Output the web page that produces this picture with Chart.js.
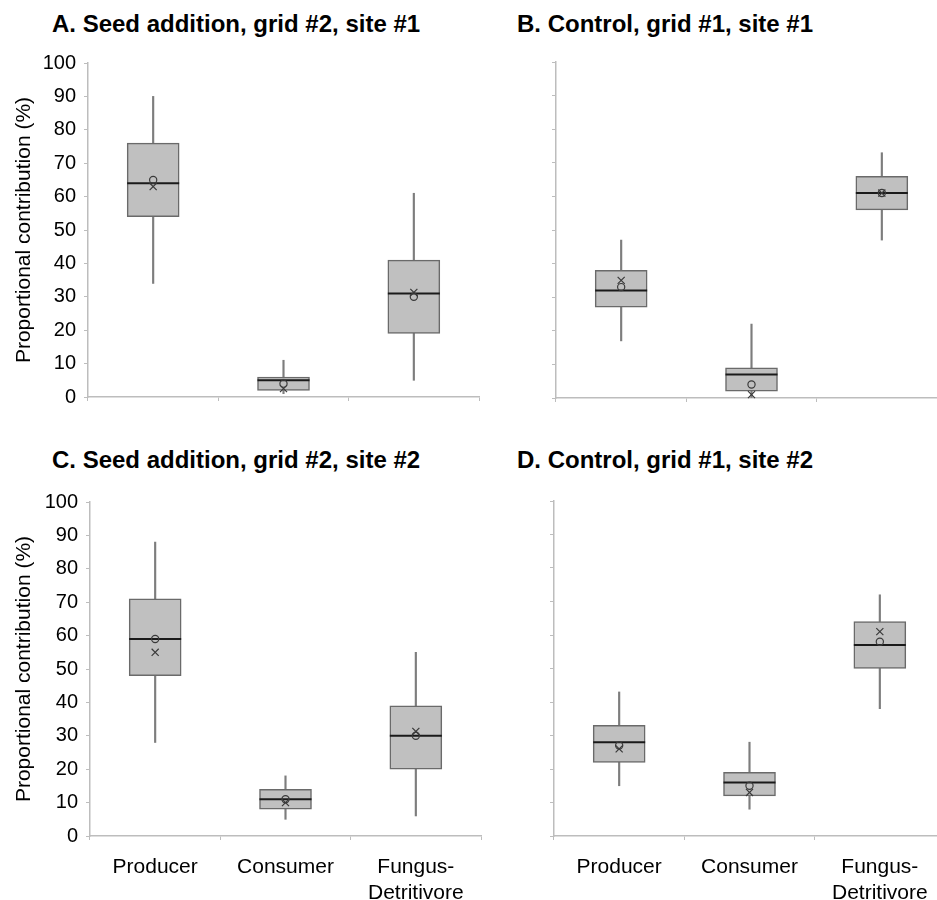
<!DOCTYPE html>
<html><head><meta charset="utf-8">
<script src="https://cdn.jsdelivr.net/npm/chart.js@4/dist/chart.umd.min.js"></script>
<style>
html,body{margin:0;padding:0;background:#fff;overflow:hidden;}
#wrap{position:relative;width:937px;height:900px;overflow:hidden;background:#fff;}
canvas{position:absolute;}
.ttl{position:absolute;font-family:"Liberation Sans",Arial,sans-serif;font-weight:bold;font-size:24px;line-height:24px;color:#000;white-space:nowrap;}
</style></head><body>
<div id="wrap">
<div class="ttl" style="left:52px;top:12px">A. Seed addition, grid #2, site #1</div>
<div class="ttl" style="left:517px;top:12px">B. Control, grid #1, site #1</div>
<div class="ttl" style="left:52px;top:448px">C. Seed addition, grid #2, site #2</div>
<div class="ttl" style="left:517px;top:448px">D. Control, grid #1, site #2</div>
<canvas id="cA" width="507" height="425" style="left:0px;top:0px"></canvas>
<canvas id="cB" width="505" height="426" style="left:470px;top:0px"></canvas>
<canvas id="cC" width="509" height="460" style="left:0px;top:440px"></canvas>
<canvas id="cD" width="503" height="460" style="left:470px;top:440px"></canvas>
</div>
<script>
// ---- data ----
const categories = ['Producer', 'Consumer', ['Fungus-', 'Detritivore']];
const yTicks = [0, 10, 20, 30, 40, 50, 60, 70, 80, 90, 100];

// Panel A: Seed addition, grid #2, site #1
const lowA    = [34, 1, 5];
const q1A     = [54, 2, 19];
const medianA = [64, 5, 31];
const q3A     = [76, 6, 41];
const highA   = [90, 11, 61];
const circleA = [65, 4, 30];
const crossA  = [63, 2.5, 31.3];

// Panel B: Control, grid #1, site #1
const lowB    = [17, 0, 47];
const q1B     = [27, 2, 56];
const medianB = [32, 7, 61];
const q3B     = [38, 9, 66];
const highB   = [47, 22, 73];
const circleB = [33, 4, 61];
const crossB  = [35, 1, 61];

// Panel C: Seed addition, grid #2, site #2
const lowC    = [28, 5, 6];
const q1C     = [48, 8, 20];
const medianC = [59, 11, 30];
const q3C     = [71, 14, 39];
const highC   = [88, 18, 55];
const circleC = [59, 11, 30];
const crossC  = [55, 10, 31.3];

// Panel D: Control, grid #1, site #2
const lowD    = [15, 8, 38];
const q1D     = [22, 12, 50];
const medianD = [28, 16, 57];
const q3D     = [33, 19, 64];
const highD   = [43, 28, 72];
const circleD = [27, 15, 58];
const crossD  = [26, 13, 61];

const FONT = '"Liberation Sans", Arial, sans-serif';
const AXIS = '#bdbdbd';

function makeChart(id, d, cfg) {
  new Chart(document.getElementById(id), {
    type: 'bar',
    data: {
      labels: categories,
      datasets: [
        {type: 'line', data: d.cross, showLine: false, pointStyle: 'crossRot', pointRadius: 5,
         pointBorderWidth: 1.2, pointBorderColor: '#3a3a3a', pointBackgroundColor: 'rgba(0,0,0,0)', order: 0, clip: false},
        {type: 'line', data: d.circle, showLine: false, pointStyle: 'circle', pointRadius: 3.6,
         pointBorderWidth: 1.2, pointBorderColor: '#3a3a3a', pointBackgroundColor: 'rgba(0,0,0,0)', order: 1, clip: false},
        {type: 'line', data: d.median, showLine: false, pointStyle: 'line', pointRadius: 26,
         pointBorderWidth: 2, pointBorderColor: '#1a1a1a', order: 2, clip: false},
        {type: 'bar', data: d.q1.map((v, i) => [v, d.q3[i]]), backgroundColor: '#c0c0c0',
         borderColor: '#6a6a6a', borderWidth: 1.5, borderSkipped: false, barThickness: 52, grouped: false, order: 3},
        {type: 'bar', data: d.low.map((v, i) => [v, d.high[i]]), backgroundColor: '#7d7d7d',
         borderWidth: 0, barThickness: 1.5, grouped: false, order: 4}
      ]
    },
    options: {
      responsive: false,
      animation: false,
      events: [],
      layout: {padding: cfg.padding},
      plugins: {legend: {display: false}, tooltip: {enabled: false}, title: {display: false}},
      scales: {
        x: {
          type: 'category',
          offset: true,
          grid: {display: true, offset: true, drawOnChartArea: false, drawTicks: true, tickLength: 4, color: AXIS, lineWidth: 1},
          border: {display: true, color: AXIS, width: 1.5},
          ticks: {display: cfg.showX, color: '#000', font: {family: FONT, size: 21, lineHeight: 1.25}, padding: 14, maxRotation: 0, autoSkip: false},
          afterFit: s => { s.height = cfg.xHeight; }
        },
        y: {
          min: 0, max: 100,
          afterBuildTicks: s => { s.ticks = yTicks.map(v => ({value: v})); },
          grid: {display: true, drawOnChartArea: false, drawTicks: true, tickLength: 4, color: AXIS, lineWidth: 1},
          border: {display: true, color: AXIS, width: 1.5},
          ticks: {display: cfg.showY, color: '#000', font: {family: FONT, size: 20}, padding: 8},
          title: {display: cfg.showY, text: 'Proportional contribution (%)', color: '#000',
                  font: {family: FONT, size: 21}, padding: {top: 12, bottom: 0}},
          afterFit: s => { s.width = cfg.yWidth; }
        }
      }
    }
  });
}

makeChart('cA', {low: lowA, q1: q1A, median: medianA, q3: q3A, high: highA, circle: circleA, cross: crossA},
  {padding: {top: 63, right: 1, bottom: 8, left: 0}, yWidth: 88, xHeight: 20, showX: false, showY: true});
makeChart('cB', {low: lowB, q1: q1B, median: medianB, q3: q3B, high: highB, circle: circleB, cross: crossB},
  {padding: {top: 62, right: 1, bottom: 8, left: 0}, yWidth: 86, xHeight: 20, showX: false, showY: false});
makeChart('cC', {low: lowC, q1: q1C, median: medianC, q3: q3C, high: highC, circle: circleC, cross: crossC},
  {padding: {top: 62, right: 1, bottom: 0, left: 0}, yWidth: 90, xHeight: 64, showX: true, showY: true});
makeChart('cD', {low: lowD, q1: q1D, median: medianD, q3: q3D, high: highD, circle: circleD, cross: crossD},
  {padding: {top: 61, right: 1, bottom: 0, left: 0}, yWidth: 84, xHeight: 64, showX: true, showY: false});
</script>
</body></html>
